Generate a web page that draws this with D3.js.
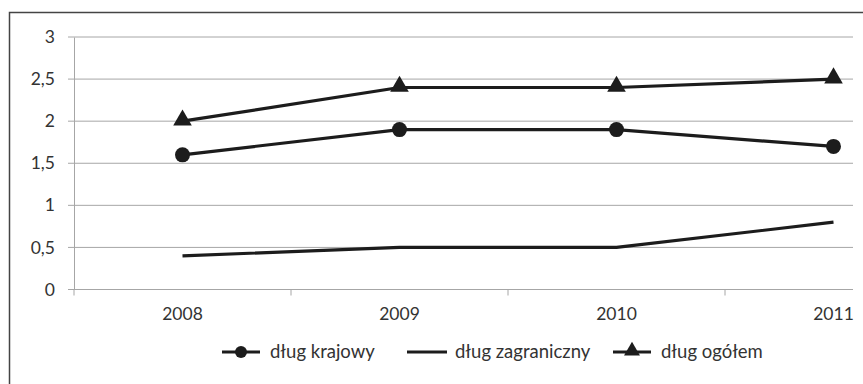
<!DOCTYPE html>
<html>
<head>
<meta charset="utf-8">
<script src="https://cdn.jsdelivr.net/npm/d3@7"></script>
<style>
  body { margin: 0; background: #fff; }
  svg { display: block; }
  text { font-family: Lato, "Open Sans", sans-serif; fill: #333; }
</style>
</head>
<body>
<svg id="chart" width="863" height="384"></svg>
<script>
// Years on the category axis
const years = ["2008", "2009", "2010", "2011"];
// Debt series
const dlugKrajowy = [1.6, 1.9, 1.9, 1.7];
const dlugZagraniczny = [0.4, 0.5, 0.5, 0.8];
const dlugOgolem = [2.0, 2.4, 2.4, 2.5];
// Value axis ticks
const yTicks = [0, 0.5, 1, 1.5, 2, 2.5, 3];

const series = [
  { name: "dług krajowy", values: dlugKrajowy, marker: "circle" },
  { name: "dług zagraniczny", values: dlugZagraniczny, marker: "none" },
  { name: "dług ogółem", values: dlugOgolem, marker: "triangle" }
];

const svg = d3.select("#chart");
const plotLeft = 74, plotTop = 37, plotBottom = 289.5, gridRight = 853;
const band = 217;
const fontSize = 17.5;

// Outer frame
svg.append("rect")
  .attr("x", 9.5).attr("y", 12.5)
  .attr("width", 900).attr("height", 400)
  .attr("fill", "none").attr("stroke", "#444").attr("stroke-width", 1.5);

const x = d3.scaleBand().domain(years).range([plotLeft, plotLeft + band * years.length]);
const y = d3.scaleLinear().domain([0, 3]).range([plotBottom, plotTop]);
const fmt = d => String(d).replace(".", ",");

// Horizontal gridlines
svg.append("g").selectAll("line").data(yTicks).join("line")
  .attr("x1", plotLeft - 6).attr("x2", gridRight)
  .attr("y1", d => y(d)).attr("y2", d => y(d))
  .attr("stroke", "#a6a6a6").attr("stroke-width", 1);

// Value axis
const yAxis = svg.append("g").attr("transform", `translate(${plotLeft},0)`)
  .call(d3.axisLeft(y).tickValues(yTicks).tickFormat(fmt).tickSize(0).tickPadding(19));
yAxis.select(".domain").attr("stroke", "#a6a6a6");
yAxis.selectAll("text").attr("font-size", fontSize).style("font-family", "Lato, sans-serif").attr("fill", "#333");

// Category axis
const xAxis = svg.append("g").attr("transform", `translate(0,${plotBottom})`)
  .call(d3.axisBottom(x).tickSize(0).tickPadding(18));
xAxis.select(".domain").remove();
xAxis.selectAll("text").attr("font-size", fontSize).style("font-family", "Lato, sans-serif").attr("fill", "#333");
svg.append("line").attr("x1", plotLeft).attr("x2", gridRight)
  .attr("y1", plotBottom).attr("y2", plotBottom).attr("stroke", "#a6a6a6");
// Category tick marks between bands
svg.append("g").selectAll("line").data(years).join("line")
  .attr("x1", d => x(d)).attr("x2", d => x(d))
  .attr("y1", plotBottom).attr("y2", plotBottom + 6)
  .attr("stroke", "#a6a6a6");

const cx = (d, i) => x(years[i]) + x.bandwidth() / 2;
const line = d3.line().x(cx).y(d => y(d));
const ink = "#1c1c1c";
const triangle = d3.symbol().type(d3.symbolTriangle);

series.forEach(s => {
  svg.append("path").datum(s.values)
    .attr("d", line).attr("fill", "none")
    .attr("stroke", ink).attr("stroke-width", 3.2).attr("stroke-linejoin", "round");
  if (s.marker === "circle") {
    svg.append("g").selectAll("circle").data(s.values).join("circle")
      .attr("cx", cx).attr("cy", d => y(d)).attr("r", 7.5).attr("fill", ink);
  } else if (s.marker === "triangle") {
    svg.append("g").selectAll("path").data(s.values).join("path")
      .attr("d", triangle.size(150))
      .attr("transform", (d, i) => `translate(${cx(d, i)},${y(d) - 1})`)
      .attr("fill", ink);
  }
});

// Legend
const legendY = 352;
const legendX = [222, 407, 613];
series.forEach((s, i) => {
  const g = svg.append("g").attr("transform", `translate(${legendX[i]},${legendY})`);
  const w = i === 1 ? 40 : 38;
  g.append("line").attr("x1", 0).attr("x2", w).attr("y1", 0).attr("y2", 0)
    .attr("stroke", ink).attr("stroke-width", 3.2);
  if (s.marker === "circle") {
    g.append("circle").attr("cx", w / 2).attr("cy", 0).attr("r", 6).attr("fill", ink);
  } else if (s.marker === "triangle") {
    g.append("path").attr("d", triangle.size(110)).attr("transform", `translate(${w / 2},-1)`).attr("fill", ink);
  }
  g.append("text").attr("x", w + (i === 1 ? 8 : 10)).attr("y", 0).attr("dy", "0.32em")
    .attr("font-size", 18.5).text(s.name);
});
</script>
</body>
</html>
